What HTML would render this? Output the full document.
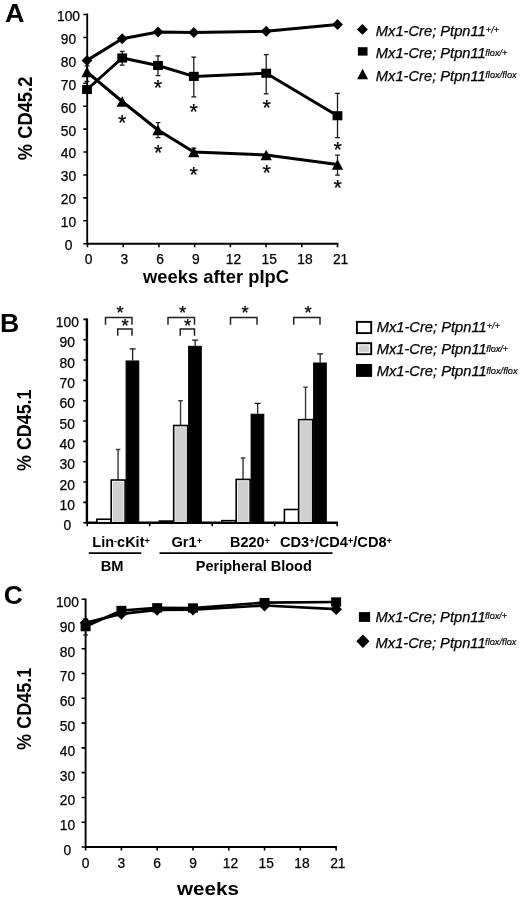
<!DOCTYPE html>
<html lang="en">
<head>
<meta charset="utf-8">
<title>Figure</title>
<style>
html,body{margin:0;padding:0;background:#fff;}
body{width:520px;height:901px;overflow:hidden;}
svg{display:block;font-family:"Liberation Sans", Arial, Helvetica, sans-serif;fill:#000;}
</style>
</head>
<body>
<svg width="520" height="901" viewBox="0 0 520 901">
<rect x="0" y="0" width="520" height="901" fill="#fff"/>
<g id="panelA">
<text x="4.9" y="21.7" font-size="25" font-weight="bold" textLength="19.5" lengthAdjust="spacingAndGlyphs">A</text>
<path d="M87.2 13.6V243.75H338.4" stroke="#000" stroke-width="1.85" fill="none"/>
<path d="M83.3 243.75H87.2M83.3 220.82H87.2M83.3 197.9H87.2M83.3 174.97H87.2M83.3 152.05H87.2M83.3 129.12H87.2M83.3 106.2H87.2M83.3 83.28H87.2M83.3 60.35H87.2M83.3 37.43H87.2M83.3 14.5H87.2M87.5 243.75V247.25M123.22 243.75V247.25M158.93 243.75V247.25M194.64 243.75V247.25M230.36 243.75V247.25M266.07 243.75V247.25M301.79 243.75V247.25M337.5 243.75V247.25" stroke="#000" stroke-width="1.6" fill="none"/>
<g font-size="13.8" text-anchor="middle" stroke="#000" stroke-width="0.25">
<text x="68.5" y="250.15">0</text>
<text x="68.5" y="227.22">10</text>
<text x="68.5" y="204.3">20</text>
<text x="68.5" y="181.38">30</text>
<text x="68.5" y="158.45">40</text>
<text x="68.5" y="135.53">50</text>
<text x="68.5" y="112.6">60</text>
<text x="68.5" y="89.68">70</text>
<text x="68.5" y="66.75">80</text>
<text x="68.5" y="43.83">90</text>
<text x="68.5" y="20.9">100</text>
</g>
<g font-size="13.8" text-anchor="middle" stroke="#000" stroke-width="0.25">
<text x="88.7" y="264.1">0</text>
<text x="124.42" y="264.1">3</text>
<text x="160.13" y="264.1">6</text>
<text x="195.84" y="264.1">9</text>
<text x="233.46" y="264.1">12</text>
<text x="269.18" y="264.1">15</text>
<text x="304.89" y="264.1">18</text>
<text x="340.61" y="264.1">21</text>
</g>
<text transform="translate(31.5 118.4) rotate(-90)" font-size="19.6" font-weight="bold" text-anchor="middle" textLength="83.5" lengthAdjust="spacingAndGlyphs">% CD45.2</text>
<text x="216" y="283.3" font-size="19" font-weight="bold" text-anchor="middle" textLength="146" lengthAdjust="spacingAndGlyphs">weeks after pIpC</text>
<path d="M87 81.3V93M84.6 81.3H89.4M84.6 93H89.4" stroke="#151515" stroke-width="1.25" fill="none"/>
<path d="M122.2 51.25V65M119.8 51.25H124.6M119.8 65H124.6" stroke="#151515" stroke-width="1.25" fill="none"/>
<path d="M158 55.75V75.5M155.6 55.75H160.4M155.6 75.5H160.4" stroke="#151515" stroke-width="1.25" fill="none"/>
<path d="M193.8 57V96.75M191.4 57H196.2M191.4 96.75H196.2" stroke="#151515" stroke-width="1.25" fill="none"/>
<path d="M266.2 54.5V93.75M263.8 54.5H268.6M263.8 93.75H268.6" stroke="#151515" stroke-width="1.25" fill="none"/>
<path d="M337.5 93.25V137.5M335.1 93.25H339.9M335.1 137.5H339.9" stroke="#151515" stroke-width="1.25" fill="none"/>
<path d="M87 65.8V76M84.6 65.8H89.4M84.6 76H89.4" stroke="#151515" stroke-width="1.25" fill="none"/>
<path d="M158 122.5V137.5M155.6 122.5H160.4M155.6 137.5H160.4" stroke="#151515" stroke-width="1.25" fill="none"/>
<path d="M193.8 148V156M191.4 148H196.2M191.4 156H196.2" stroke="#151515" stroke-width="1.25" fill="none"/>
<path d="M337.5 155V175M335.1 155H339.9M335.1 175H339.9" stroke="#151515" stroke-width="1.25" fill="none"/>
<polyline points="87,60.4 122.2,38.75 158,32 193.8,32.5 266.2,31.25 337.5,24.5" fill="none" stroke="#000" stroke-width="3" stroke-linejoin="round"/>
<polyline points="87,89.5 122.2,58 158,65.5 193.8,76.4 266.2,73.25 337.5,115.75" fill="none" stroke="#000" stroke-width="3" stroke-linejoin="round"/>
<polyline points="87,72 122.2,101.5 158,130 193.8,152 266.2,155 337.5,164.5" fill="none" stroke="#000" stroke-width="3" stroke-linejoin="round"/>
<polygon points="87,54.9 92.4,60.4 87,65.9 81.6,60.4"/>
<polygon points="122.2,33.25 127.6,38.75 122.2,44.25 116.8,38.75"/>
<polygon points="158,26.5 163.4,32 158,37.5 152.6,32"/>
<polygon points="193.8,27 199.2,32.5 193.8,38 188.4,32.5"/>
<polygon points="266.2,25.75 271.6,31.25 266.2,36.75 260.8,31.25"/>
<polygon points="337.5,19 342.9,24.5 337.5,30 332.1,24.5"/>
<rect x="82.1" y="84.94" width="9.8" height="9.11"/>
<rect x="117.3" y="53.44" width="9.8" height="9.11"/>
<rect x="153.1" y="60.94" width="9.8" height="9.11"/>
<rect x="188.9" y="71.84" width="9.8" height="9.11"/>
<rect x="261.3" y="68.69" width="9.8" height="9.11"/>
<rect x="332.6" y="111.19" width="9.8" height="9.11"/>
<polygon points="87,66.7 92.7,77.3 81.3,77.3"/>
<polygon points="122.2,96.2 127.9,106.8 116.5,106.8"/>
<polygon points="158,124.7 163.7,135.3 152.3,135.3"/>
<polygon points="193.8,146.7 199.5,157.3 188.1,157.3"/>
<polygon points="266.2,149.7 271.9,160.3 260.5,160.3"/>
<polygon points="337.5,159.2 343.2,169.8 331.8,169.8"/>
<text x="158" y="95.43" font-size="21.5" text-anchor="middle" stroke="#000" stroke-width="0.25">*</text>
<text x="193.75" y="119.43" font-size="21.5" text-anchor="middle" stroke="#000" stroke-width="0.25">*</text>
<text x="266.75" y="114.93" font-size="21.5" text-anchor="middle" stroke="#000" stroke-width="0.25">*</text>
<text x="337.6" y="156.93" font-size="21.5" text-anchor="middle" stroke="#000" stroke-width="0.25">*</text>
<text x="122.3" y="130.03" font-size="21.5" text-anchor="middle" stroke="#000" stroke-width="0.25">*</text>
<text x="158.25" y="160.43" font-size="21.5" text-anchor="middle" stroke="#000" stroke-width="0.25">*</text>
<text x="193.75" y="181.68" font-size="21.5" text-anchor="middle" stroke="#000" stroke-width="0.25">*</text>
<text x="266.75" y="180.43" font-size="21.5" text-anchor="middle" stroke="#000" stroke-width="0.25">*</text>
<text x="337.6" y="195.43" font-size="21.5" text-anchor="middle" stroke="#000" stroke-width="0.25">*</text>
<polygon points="362.4,24 367.9,29.4 362.4,34.8 356.9,29.4"/>
<rect x="357.9" y="47.2" width="9.6" height="8.4"/>
<polygon points="362.6,68.7 368.1,79.3 357.1,79.3"/>
<text x="375.8" y="35.9" font-size="14.4" font-style="italic" stroke="#000" stroke-width="0.25" textLength="110" lengthAdjust="spacingAndGlyphs">Mx1-Cre; Ptpn11</text><text x="485.8" y="33.2" font-size="9.6" font-style="italic" stroke="#000" stroke-width="0.2" textLength="13.4" lengthAdjust="spacingAndGlyphs">+/+</text>
<text x="375.8" y="58.2" font-size="14.4" font-style="italic" stroke="#000" stroke-width="0.25" textLength="110" lengthAdjust="spacingAndGlyphs">Mx1-Cre; Ptpn11</text><text x="485.3" y="55.5" font-size="9.6" font-style="italic" stroke="#000" stroke-width="0.2" textLength="22" lengthAdjust="spacingAndGlyphs">flox/+</text>
<text x="375.8" y="80.9" font-size="14.4" font-style="italic" stroke="#000" stroke-width="0.25" textLength="110" lengthAdjust="spacingAndGlyphs">Mx1-Cre; Ptpn11</text><text x="485.3" y="78.2" font-size="9.6" font-style="italic" stroke="#000" stroke-width="0.2" textLength="31.4" lengthAdjust="spacingAndGlyphs">flox/flox</text>
</g>
<g id="panelB">
<text x="0" y="332" font-size="25" font-weight="bold" textLength="19.3" lengthAdjust="spacingAndGlyphs">B</text>
<path d="M86.9 318.4V522.7H338" stroke="#000" stroke-width="2.4" fill="none"/>
<path d="M83.3 522.7H87.2M83.3 502.37H87.2M83.3 482.04H87.2M83.3 461.71H87.2M83.3 441.38H87.2M83.3 421.05H87.2M83.3 400.72H87.2M83.3 380.39H87.2M83.3 360.06H87.2M83.3 339.73H87.2M83.3 319.4H87.2M87.2 522.7V526.2M149.7 522.7V526.2M212.2 522.7V526.2M274.7 522.7V526.2M337.2 522.7V526.2" stroke="#000" stroke-width="1.6" fill="none"/>
<g font-size="13.8" text-anchor="middle" stroke="#000" stroke-width="0.25">
<text x="67.3" y="530.3">0</text>
<text x="67.3" y="509.97">10</text>
<text x="67.3" y="489.64">20</text>
<text x="67.3" y="469.31">30</text>
<text x="67.3" y="448.98">40</text>
<text x="67.3" y="428.65">50</text>
<text x="67.3" y="408.32">60</text>
<text x="67.3" y="387.99">70</text>
<text x="67.3" y="367.66">80</text>
<text x="67.3" y="347.33">90</text>
<text x="67.3" y="327">100</text>
</g>
<text transform="translate(31.4 430.2) rotate(-90)" font-size="19.6" font-weight="bold" text-anchor="middle" textLength="81.4" lengthAdjust="spacingAndGlyphs">% CD45.1</text>
<path d="M118.05 480.01V449.51M115.75 449.51H120.35" stroke="#383838" stroke-width="1.4" fill="none"/>
<path d="M132.65 360.47V348.88M129.65 348.88H135.65" stroke="#111" stroke-width="1.2" fill="none"/>
<rect x="96.9" y="519.24" width="14.3" height="3.46" fill="#fff" stroke="#000" stroke-width="1.6"/>
<rect x="111.2" y="480.01" width="13.9" height="42.69" fill="#fff" stroke="#000" stroke-width="1.6"/>
<rect x="112.8" y="481.71" width="10.7" height="39.79" fill="#cfcfcf"/>
<rect x="126.1" y="360.97" width="12.7" height="161.73" fill="#000" stroke="#000" stroke-width="1"/>
<path d="M180.55 425.52V400.72M178.25 400.72H182.85" stroke="#383838" stroke-width="1.4" fill="none"/>
<path d="M195.15 345.83V340.14M192.15 340.14H198.15" stroke="#111" stroke-width="1.2" fill="none"/>
<rect x="159.4" y="521.07" width="14.3" height="1.63" fill="#fff" stroke="#000" stroke-width="1.6"/>
<rect x="173.7" y="425.52" width="13.9" height="97.18" fill="#fff" stroke="#000" stroke-width="1.6"/>
<rect x="175.3" y="427.22" width="10.7" height="94.28" fill="#cfcfcf"/>
<rect x="188.6" y="346.33" width="12.7" height="176.37" fill="#000" stroke="#000" stroke-width="1"/>
<path d="M243.05 479.4V458.05M240.75 458.05H245.35" stroke="#383838" stroke-width="1.4" fill="none"/>
<path d="M257.65 413.73V403.36M254.65 403.36H260.65" stroke="#111" stroke-width="1.2" fill="none"/>
<rect x="221.9" y="520.67" width="14.3" height="2.03" fill="#fff" stroke="#000" stroke-width="1.6"/>
<rect x="236.2" y="479.4" width="13.9" height="43.3" fill="#fff" stroke="#000" stroke-width="1.6"/>
<rect x="237.8" y="481.1" width="10.7" height="40.4" fill="#cfcfcf"/>
<rect x="251.1" y="414.23" width="12.7" height="108.47" fill="#000" stroke="#000" stroke-width="1"/>
<path d="M305.55 419.63V387.1M303.25 387.1H307.85" stroke="#383838" stroke-width="1.4" fill="none"/>
<path d="M320.15 362.5V353.96M317.15 353.96H323.15" stroke="#111" stroke-width="1.2" fill="none"/>
<rect x="284.4" y="509.49" width="14.3" height="13.21" fill="#fff" stroke="#000" stroke-width="1.6"/>
<rect x="298.7" y="419.63" width="13.9" height="103.07" fill="#fff" stroke="#000" stroke-width="1.6"/>
<rect x="300.3" y="421.33" width="10.7" height="100.17" fill="#cfcfcf"/>
<rect x="313.6" y="363" width="12.7" height="159.7" fill="#000" stroke="#000" stroke-width="1"/>
<path d="M105.5 324.8V317.4H132V324.8M117.7 335.8V328.9H132V335.8M168 324.8V317.4H194.5V324.8M180.2 335.8V328.9H194.5V335.8M230.5 324.8V317.4H257V324.8M293.75 324.8V317.4H320V324.8" stroke="#1e1e1e" stroke-width="1.45" fill="none"/>
<text x="120.2" y="319.07" font-size="18.5" text-anchor="middle" stroke="#000" stroke-width="0.25">*</text>
<text x="125.2" y="332.47" font-size="18.5" text-anchor="middle" stroke="#000" stroke-width="0.25">*</text>
<text x="182.6" y="319.07" font-size="18.5" text-anchor="middle" stroke="#000" stroke-width="0.25">*</text>
<text x="187.7" y="332.47" font-size="18.5" text-anchor="middle" stroke="#000" stroke-width="0.25">*</text>
<text x="245" y="319.07" font-size="18.5" text-anchor="middle" stroke="#000" stroke-width="0.25">*</text>
<text x="308" y="319.07" font-size="18.5" text-anchor="middle" stroke="#000" stroke-width="0.25">*</text>
<text x="92.3" y="546.9" font-size="15" font-weight="bold" textLength="57.6" lengthAdjust="spacingAndGlyphs">Lin<tspan dy="-3.0" font-size="9.6">-</tspan><tspan dy="3.0">cKit</tspan><tspan dy="-3.0" font-size="9.6">+</tspan></text>
<text x="171.5" y="546.9" font-size="15" font-weight="bold" textLength="30.6" lengthAdjust="spacingAndGlyphs">Gr1<tspan dy="-3.0" font-size="9.6">+</tspan></text>
<text x="230" y="546.9" font-size="15" font-weight="bold" textLength="39.8" lengthAdjust="spacingAndGlyphs">B220<tspan dy="-3.0" font-size="9.6">+</tspan></text>
<text x="280" y="546.9" font-size="15" font-weight="bold" textLength="112" lengthAdjust="spacingAndGlyphs">CD3<tspan dy="-3.0" font-size="9.6">+</tspan><tspan dy="3.0">/CD4</tspan><tspan dy="-3.0" font-size="9.6">+</tspan><tspan dy="3.0">/CD8</tspan><tspan dy="-3.0" font-size="9.6">+</tspan></text>
<path d="M88.75 553.1H141.25M159.5 553.1H332.5" stroke="#000" stroke-width="1.6" fill="none"/>
<text x="100.7" y="571.4" font-size="15" font-weight="bold" textLength="22.8" lengthAdjust="spacingAndGlyphs">BM</text>
<text x="195.8" y="571.4" font-size="15" font-weight="bold" textLength="116" lengthAdjust="spacingAndGlyphs">Peripheral Blood</text>
<rect x="356.9" y="321.9" width="14.3" height="11.2" fill="#fff" stroke="#000" stroke-width="1.9"/>
<rect x="356.9" y="343.2" width="14.3" height="11" fill="#fff" stroke="#000" stroke-width="1.9"/>
<rect x="358.9" y="345.3" width="10.3" height="6.9" fill="#cfcfcf"/>
<rect x="356" y="364" width="16.1" height="12.9" fill="#000"/>
<text x="376.7" y="332" font-size="14.4" font-style="italic" stroke="#000" stroke-width="0.25" textLength="110" lengthAdjust="spacingAndGlyphs">Mx1-Cre; Ptpn11</text><text x="486.7" y="329.3" font-size="9.6" font-style="italic" stroke="#000" stroke-width="0.2" textLength="13.4" lengthAdjust="spacingAndGlyphs">+/+</text>
<text x="376.7" y="354.4" font-size="14.4" font-style="italic" stroke="#000" stroke-width="0.25" textLength="110" lengthAdjust="spacingAndGlyphs">Mx1-Cre; Ptpn11</text><text x="486.2" y="351.7" font-size="9.6" font-style="italic" stroke="#000" stroke-width="0.2" textLength="22" lengthAdjust="spacingAndGlyphs">flox/+</text>
<text x="376.7" y="376.4" font-size="14.4" font-style="italic" stroke="#000" stroke-width="0.25" textLength="110" lengthAdjust="spacingAndGlyphs">Mx1-Cre; Ptpn11</text><text x="486.2" y="373.7" font-size="9.6" font-style="italic" stroke="#000" stroke-width="0.2" textLength="31.4" lengthAdjust="spacingAndGlyphs">flox/flox</text>
</g>
<g id="panelC">
<text x="3.7" y="603.8" font-size="25" font-weight="bold" textLength="19" lengthAdjust="spacingAndGlyphs">C</text>
<path d="M85.6 598.4V847H337" stroke="#000" stroke-width="1.9" fill="none"/>
<path d="M81.6 847H85.6M81.6 822.22H85.6M81.6 797.44H85.6M81.6 772.66H85.6M81.6 747.88H85.6M81.6 723.1H85.6M81.6 698.32H85.6M81.6 673.54H85.6M81.6 648.76H85.6M81.6 623.98H85.6M81.6 599.2H85.6M85.6 847V850.5M121.39 847V850.5M157.18 847V850.5M192.97 847V850.5M228.76 847V850.5M264.55 847V850.5M300.34 847V850.5M336.13 847V850.5" stroke="#000" stroke-width="1.6" fill="none"/>
<g font-size="13.8" text-anchor="middle" stroke="#000" stroke-width="0.25">
<text x="67.4" y="854.9">0</text>
<text x="67.4" y="830.12">10</text>
<text x="67.4" y="805.34">20</text>
<text x="67.4" y="780.56">30</text>
<text x="67.4" y="755.78">40</text>
<text x="67.4" y="731">50</text>
<text x="67.4" y="706.22">60</text>
<text x="67.4" y="681.44">70</text>
<text x="67.4" y="656.66">80</text>
<text x="67.4" y="631.88">90</text>
<text x="67.4" y="607.1">100</text>
</g>
<g font-size="13.8" text-anchor="middle" stroke="#000" stroke-width="0.25">
<text x="85.6" y="868.2">0</text>
<text x="121.39" y="868.2">3</text>
<text x="157.18" y="868.2">6</text>
<text x="192.97" y="868.2">9</text>
<text x="230.46" y="868.2">12</text>
<text x="266.25" y="868.2">15</text>
<text x="302.04" y="868.2">18</text>
<text x="337.83" y="868.2">21</text>
</g>
<text transform="translate(31.4 708.8) rotate(-90)" font-size="19.6" font-weight="bold" text-anchor="middle" textLength="82.2" lengthAdjust="spacingAndGlyphs">% CD45.1</text>
<text x="177" y="895.2" font-size="19" font-weight="bold" textLength="62" lengthAdjust="spacingAndGlyphs">weeks</text>
<path d="M85.6 619V635M83.1 619H88.1M83.1 635H88.1" stroke="#000" stroke-width="1" fill="none"/>
<polyline points="85.6,626.6 121.39,610.5 157.18,607.8 192.97,608 264.55,602.6 336.13,602" fill="none" stroke="#000" stroke-width="2.7" stroke-linejoin="round"/>
<polyline points="85.6,622.8 121.39,613.9 157.18,609.8 192.97,609.6 264.55,605.5 336.13,609.2" fill="none" stroke="#000" stroke-width="2.7" stroke-linejoin="round"/>
<rect x="80.6" y="621.95" width="10" height="9.3"/>
<rect x="116.39" y="605.85" width="10" height="9.3"/>
<rect x="152.18" y="603.15" width="10" height="9.3"/>
<rect x="187.97" y="603.35" width="10" height="9.3"/>
<rect x="259.55" y="597.95" width="10" height="9.3"/>
<rect x="331.13" y="597.35" width="10" height="9.3"/>
<polygon points="85.6,616.9 91.4,622.8 85.6,628.7 79.8,622.8"/>
<polygon points="121.39,608 127.19,613.9 121.39,619.8 115.59,613.9"/>
<polygon points="157.18,603.9 162.98,609.8 157.18,615.7 151.38,609.8"/>
<polygon points="192.97,603.7 198.77,609.6 192.97,615.5 187.17,609.6"/>
<polygon points="264.55,599.6 270.35,605.5 264.55,611.4 258.75,605.5"/>
<polygon points="336.13,603.3 341.93,609.2 336.13,615.1 330.33,609.2"/>
<rect x="358.9" y="612.1" width="11.2" height="9.8"/>
<polygon points="362.9,634.45 369.5,641.2 362.9,647.95 356.3,641.2"/>
<text x="375.6" y="621.9" font-size="14.4" font-style="italic" stroke="#000" stroke-width="0.25" textLength="110" lengthAdjust="spacingAndGlyphs">Mx1-Cre; Ptpn11</text><text x="485.1" y="619.2" font-size="9.6" font-style="italic" stroke="#000" stroke-width="0.2" textLength="22" lengthAdjust="spacingAndGlyphs">flox/+</text>
<text x="375.6" y="647.6" font-size="14.4" font-style="italic" stroke="#000" stroke-width="0.25" textLength="110" lengthAdjust="spacingAndGlyphs">Mx1-Cre; Ptpn11</text><text x="485.1" y="644.9" font-size="9.6" font-style="italic" stroke="#000" stroke-width="0.2" textLength="31.4" lengthAdjust="spacingAndGlyphs">flox/flox</text>
</g>
</svg>
</body>
</html>
